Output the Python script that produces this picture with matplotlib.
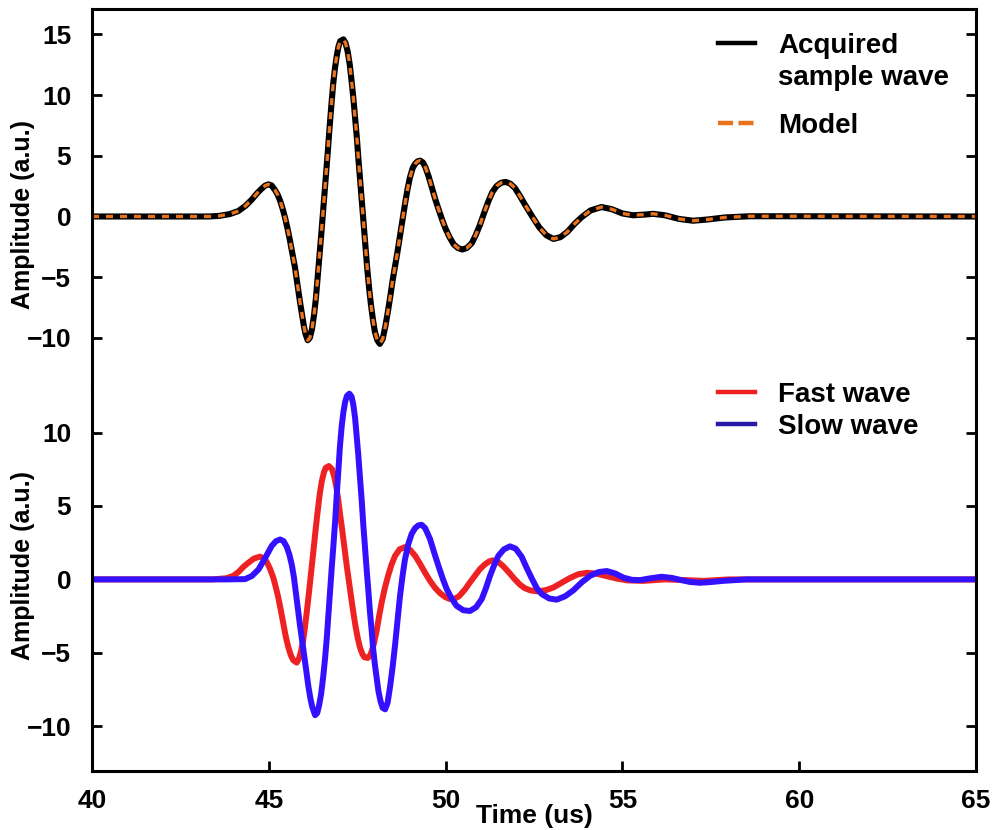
import matplotlib
matplotlib.use("Agg")
import matplotlib.pyplot as plt
from matplotlib.lines import Line2D

plt.rcParams["font.family"] = ["Liberation Sans", "DejaVu Sans"]
plt.rcParams["font.weight"] = "bold"

# --- Acquired sample wave (top panel) ---
acq_time = [
    40.0, 43.3, 43.6, 43.9, 44.14, 44.35, 44.52, 44.68,
    44.80, 44.90, 44.99, 45.08, 45.17, 45.25, 45.32, 45.39,
    45.46, 45.53, 45.60, 45.67, 45.74, 45.81, 45.88, 45.94,
    45.99, 46.04, 46.10, 46.16, 46.22, 46.28, 46.33, 46.38,
    46.43, 46.48, 46.52, 46.57, 46.62, 46.67, 46.71, 46.77,
    46.82, 46.87, 46.92, 46.97, 47.02, 47.11, 47.17, 47.23,
    47.29, 47.34, 47.39, 47.44, 47.49, 47.53, 47.58, 47.63,
    47.70, 47.75, 47.79, 47.84, 47.89, 47.95, 48.00, 48.07,
    48.14, 48.22, 48.30, 48.37, 48.44, 48.50, 48.57, 48.64,
    48.71, 48.78, 48.85, 48.92, 48.99, 49.07, 49.14, 49.21,
    49.28, 49.36, 49.43, 49.52, 49.62, 49.71, 49.80, 49.90,
    49.99, 50.11, 50.23, 50.35, 50.47, 50.60, 50.74, 50.85,
    50.97, 51.09, 51.21, 51.32, 51.44, 51.57, 51.70, 51.83,
    51.96, 52.10, 52.24, 52.45, 52.65, 52.85, 53.05, 53.25,
    53.45, 53.65, 53.85, 54.10, 54.41, 54.70, 55.00, 55.30,
    55.60, 55.87, 56.20, 56.60, 57.00, 57.40, 57.90, 58.60,
    59.50, 65.0,
]
acq_amp = [
    0.0, 0.0, 0.05, 0.2, 0.45, 0.9, 1.4, 1.95,
    2.3, 2.55, 2.65, 2.55, 2.2, 1.8, 1.3, 0.65,
    -0.1, -1.0, -2.0, -3.1, -4.2, -5.6, -7.0, -8.1,
    -9.0, -9.7, -10.2, -10.0, -9.3, -8.1, -6.8, -5.1,
    -3.4, -1.6, -0.1, 1.7, 3.5, 5.4, 7.0, 9.2,
    10.9, 12.2, 13.2, 14.0, 14.45, 14.6, 14.3, 13.6,
    12.5, 11.2, 9.8, 8.2, 6.5, 4.9, 3.1, 1.3,
    -1.2, -3.1, -4.5, -6.0, -7.3, -8.6, -9.5, -10.2,
    -10.5, -10.1, -9.0, -7.8, -6.5, -5.3, -4.1, -2.9,
    -1.6, -0.3, 1.0, 2.2, 3.2, 4.0, 4.35, 4.55,
    4.6, 4.45, 4.05, 3.3, 2.3, 1.4, 0.6, -0.25,
    -0.95, -1.7, -2.3, -2.6, -2.72, -2.6, -2.2, -1.55,
    -0.7, 0.3, 1.25, 2.0, 2.5, 2.78, 2.85, 2.7,
    2.35, 1.7, 1.0, 0.0, -0.9, -1.55, -1.85, -1.7,
    -1.25, -0.6, -0.05, 0.5, 0.78, 0.6, 0.25, 0.1,
    0.15, 0.22, 0.1, -0.2, -0.35, -0.25, -0.08, 0.02,
    0.02, 0.0,
]
# the model overlays the acquired wave point for point
model_time = acq_time
model_amp = acq_amp

# --- Fast wave (bottom panel) ---
fast_time = [
    40.0, 43.4, 43.8, 44.0, 44.14, 44.28, 44.42, 44.58,
    44.75, 44.85, 44.94, 45.03, 45.13, 45.20, 45.27, 45.34,
    45.41, 45.48, 45.55, 45.62, 45.69, 45.79, 45.86, 45.91,
    45.97, 46.02, 46.08, 46.14, 46.20, 46.26, 46.32, 46.38,
    46.44, 46.50, 46.56, 46.61, 46.70, 46.79, 46.85, 46.91,
    46.97, 47.02, 47.08, 47.14, 47.20, 47.27, 47.33, 47.40,
    47.46, 47.52, 47.58, 47.64, 47.70, 47.80, 47.86, 47.91,
    47.98, 48.05, 48.12, 48.19, 48.28, 48.38, 48.47, 48.57,
    48.70, 48.85, 49.00, 49.14, 49.28, 49.42, 49.56, 49.70,
    49.85, 49.99, 50.10, 50.22, 50.38, 50.55, 50.69, 50.83,
    50.97, 51.11, 51.23, 51.33, 51.48, 51.63, 51.80, 51.96,
    52.10, 52.24, 52.40, 52.62, 52.85, 53.05, 53.30, 53.52,
    53.75, 53.99, 54.25, 54.56, 54.85, 55.15, 55.60, 56.20,
    56.80, 57.30, 58.00, 65.0,
]
fast_amp = [
    0.0, 0.0, 0.08, 0.25, 0.5, 0.85, 1.13, 1.42,
    1.55, 1.45, 1.2, 0.75, 0.1, -0.55, -1.25, -2.1,
    -3.0, -3.9, -4.6, -5.15, -5.5, -5.67, -5.35, -4.9,
    -4.2, -3.3, -2.1, -0.8, 0.55, 1.9, 3.3, 4.6,
    5.8, 6.7, 7.3, 7.6, 7.72, 7.5, 7.0, 6.3,
    5.3, 4.35, 3.3, 2.15, 1.0, -0.2, -1.25, -2.4,
    -3.3, -4.05, -4.65, -5.05, -5.3, -5.35, -5.2, -4.9,
    -4.3, -3.5, -2.5, -1.6, -0.6, 0.3, 1.0, 1.6,
    2.05, 2.2, 2.0, 1.6, 1.05, 0.45, -0.1, -0.57,
    -0.95, -1.2, -1.32, -1.36, -1.15, -0.68, -0.2, 0.25,
    0.7, 1.02, 1.22, 1.3, 1.2, 0.9, 0.45, 0.0,
    -0.35, -0.6, -0.75, -0.82, -0.72, -0.55, -0.2, 0.1,
    0.35, 0.45, 0.4, 0.22, 0.05, -0.07, -0.1, 0.0,
    -0.05, -0.1, 0.0, 0.0,
]

# --- Slow wave (bottom panel) ---
slow_time = [
    40.0, 43.8, 44.33, 44.52, 44.71, 44.90, 45.08, 45.20,
    45.32, 45.42, 45.51, 45.58, 45.65, 45.71, 45.76, 45.82,
    45.88, 45.95, 46.01, 46.07, 46.12, 46.18, 46.23, 46.31,
    46.37, 46.42, 46.48, 46.54, 46.59, 46.64, 46.68, 46.73,
    46.78, 46.83, 46.88, 46.92, 46.97, 47.01, 47.06, 47.11,
    47.16, 47.21, 47.28, 47.34, 47.39, 47.44, 47.48, 47.53,
    47.58, 47.63, 47.67, 47.72, 47.77, 47.82, 47.86, 47.91,
    47.95, 48.00, 48.05, 48.10, 48.16, 48.22, 48.29, 48.36,
    48.43, 48.50, 48.57, 48.64, 48.71, 48.78, 48.85, 48.95,
    49.04, 49.14, 49.23, 49.32, 49.42, 49.56, 49.68, 49.80,
    49.92, 50.03, 50.17, 50.31, 50.50, 50.69, 50.86, 51.02,
    51.14, 51.25, 51.37, 51.49, 51.65, 51.82, 51.98, 52.15,
    52.29, 52.43, 52.58, 52.72, 52.93, 53.14, 53.38, 53.61,
    53.85, 54.09, 54.33, 54.56, 54.80, 55.03, 55.27, 55.50,
    55.80, 56.11, 56.40, 56.63, 56.90, 57.19, 57.50, 57.85,
    58.50, 65.0,
]
slow_amp = [
    0.0, 0.0, 0.02, 0.23, 0.68, 1.47, 2.27, 2.6,
    2.72, 2.6, 2.2, 1.7, 1.0, 0.15, -0.8, -1.95,
    -3.1, -4.3, -5.35, -6.4, -7.3, -8.15, -8.7, -9.25,
    -9.1, -8.6, -7.8, -6.6, -5.4, -4.0, -2.6, -0.9,
    0.8, 2.4, 4.1, 5.7, 7.5, 9.0, 10.4, 11.4,
    12.1, 12.5, 12.65, 12.45, 11.9, 11.0, 9.9, 8.5,
    6.9, 5.3, 3.8, 2.2, 0.6, -0.9, -2.2, -3.5,
    -4.7, -5.8, -6.7, -7.6, -8.3, -8.75, -8.85, -8.4,
    -7.3, -6.0, -4.5, -2.8, -1.15, 0.2, 1.35, 2.45,
    3.1, 3.5, 3.68, 3.72, 3.5, 2.75, 1.8, 0.9,
    0.05, -0.65, -1.3, -1.8, -2.1, -2.15, -1.9, -1.35,
    -0.6, 0.2, 0.95, 1.6, 2.05, 2.25, 2.1, 1.55,
    0.8, 0.1, -0.6, -1.0, -1.3, -1.38, -1.15, -0.75,
    -0.2, 0.25, 0.5, 0.57, 0.4, 0.12, -0.03, -0.05,
    0.08, 0.18, 0.1, -0.03, -0.17, -0.23, -0.18, -0.1,
    0.0, 0.0,
]

top_yticks = [-10, -5, 0, 5, 10, 15]
bot_yticks = [-10, -5, 0, 5, 10]
xticks = [40, 45, 50, 55, 60, 65]

BLACK = "#000000"
ORANGE = "#e8731c"
RED = "#ee2222"
BLUE = "#3311ff"
BLUE_KEY = "#2a18a8"

TICK_FS = 19
LABEL_FS = 18
LEG_FS = 20

# figure is 993x830 px; panels share one frame, no line between them
W, H = 993, 830
x0, x1 = 92, 976
y_top, y_mid, y_bot = 9, 390, 771

fig = plt.figure(figsize=(W / 100, H / 100), dpi=100)
ax_top = fig.add_axes([x0 / W, 1 - y_mid / H, (x1 - x0) / W, (y_mid - y_top) / H])
ax_bot = fig.add_axes([x0 / W, 1 - y_bot / H, (x1 - x0) / W, (y_bot - y_mid) / H])

ax_top.plot(acq_time, acq_amp, color=BLACK, lw=4.4, solid_capstyle="butt")
ax_top.plot(model_time, model_amp, color=ORANGE, lw=2.4, dashes=(2.1, 2.1))

ax_bot.plot(fast_time, fast_amp, color=RED, lw=4.3)
ax_bot.plot(slow_time, slow_amp, color=BLUE, lw=4.3)

ax_top.set_ylim(-14.3, 17.1)
ax_bot.set_ylim(-13.05, 12.9)
for ax in (ax_top, ax_bot):
    ax.set_xlim(40, 65)
    ax.set_xticks(xticks)
    for sp in ax.spines.values():
        sp.set_linewidth(2.2)
    ax.tick_params(direction="in", length=7, width=2, right=True,
                   labelsize=TICK_FS, pad=15)
    ax.set_ylabel("Amplitude (a.u.)", fontsize=LABEL_FS, fontweight="bold")

ax_top.set_yticks(top_yticks)
ax_bot.set_yticks(bot_yticks)
ax_top.spines["bottom"].set_visible(False)
ax_bot.spines["top"].set_visible(False)
ax_top.tick_params(axis="x", bottom=False, labelbottom=False, top=False)
ax_bot.tick_params(axis="x", top=False, pad=13)

ax_top.yaxis.set_label_coords(-0.0645, 0.46)
ax_bot.yaxis.set_label_coords(-0.0645, 0.54)
ax_bot.set_xlabel("Time (us)", fontsize=TICK_FS, fontweight="bold")
ax_bot.xaxis.set_label_coords(0.5, -0.087)

legend_kw = dict(loc="upper left", frameon=False, fontsize=LEG_FS,
                 handlelength=1.33, handletextpad=0.83, borderpad=0,
                 borderaxespad=0, labelspacing=0.2)

leg1 = ax_top.legend(
    handles=[Line2D([], [], color=BLACK, lw=3.2), Line2D([], [], color="none")],
    labels=["Acquired", "sample wave"], bbox_to_anchor=(0.708, 0.937), **legend_kw)
ax_top.add_artist(leg1)
ax_top.legend(
    handles=[Line2D([], [], color=ORANGE, lw=3.2, dashes=(3.4, 1.2))],
    labels=["Model"], bbox_to_anchor=(0.708, 0.727), **legend_kw)

ax_bot.legend(
    handles=[Line2D([], [], color=RED, lw=3.2), Line2D([], [], color=BLUE_KEY, lw=3.2)],
    labels=["Fast wave", "Slow wave"], bbox_to_anchor=(0.708, 1.021), **legend_kw)

fig.savefig("out.png", dpi=100)
